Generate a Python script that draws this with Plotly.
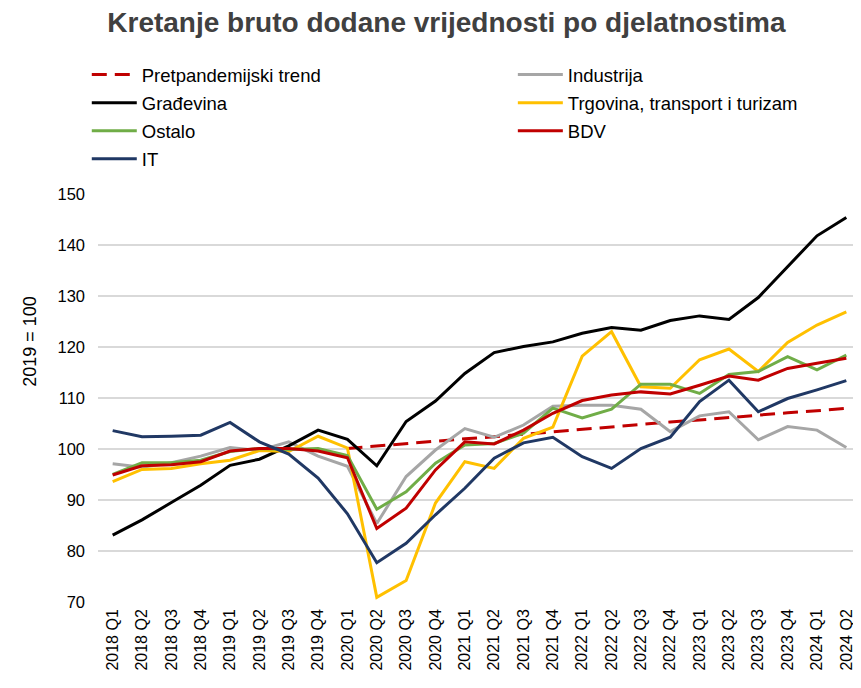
import plotly.graph_objects as go

quarters = ["2018 Q1","2018 Q2","2018 Q3","2018 Q4","2019 Q1","2019 Q2","2019 Q3","2019 Q4",
            "2020 Q1","2020 Q2","2020 Q3","2020 Q4","2021 Q1","2021 Q2","2021 Q3","2021 Q4",
            "2022 Q1","2022 Q2","2022 Q3","2022 Q4","2023 Q1","2023 Q2","2023 Q3","2023 Q4",
            "2024 Q1","2024 Q2"]

trend = [None]*8 + [100.1, 100.6, 101.0, 101.5, 102.0, 102.4, 102.9, 103.4, 103.9, 104.3,
                    104.8, 105.3, 105.7, 106.2, 106.6, 107.1, 107.5, 108.0]
industrija = [97.1, 96.4, 97.3, 98.6, 100.3, 99.7, 101.4, 98.6, 96.6, 85.4, 94.6, 99.8, 104.0,
              102.3, 104.7, 108.4, 108.6, 108.6, 107.8, 103.4, 106.5, 107.3, 101.8, 104.4, 103.7, 100.3]
gradevina = [83.1, 86.1, 89.5, 92.9, 96.8, 98.0, 100.6, 103.7, 101.9, 96.7, 105.4, 109.4, 114.8,
             118.9, 120.1, 121.0, 122.7, 123.8, 123.3, 125.2, 126.1, 125.4, 129.7, 135.7, 141.8, 145.4]
trgovina = [93.6, 96.0, 96.2, 97.1, 97.8, 99.7, 99.5, 102.5, 100.2, 70.9, 74.2, 89.4, 97.5,
            96.2, 102.1, 104.3, 118.2, 123.0, 112.2, 111.9, 117.5, 119.6, 115.2, 120.9, 124.3, 126.9]
ostalo = [95.0, 97.3, 97.3, 97.8, 99.5, 100.1, 99.9, 100.1, 98.7, 88.2, 91.6, 97.2, 100.8,
          101.1, 103.1, 108.0, 106.1, 107.8, 112.7, 112.7, 110.9, 114.6, 115.2, 118.1, 115.5, 118.4]
bdv = [94.9, 96.7, 96.9, 97.5, 99.6, 100.1, 100.1, 99.6, 98.3, 84.4, 88.4, 95.9, 101.4,
       101.0, 103.7, 107.0, 109.5, 110.6, 111.2, 110.8, 112.5, 114.3, 113.5, 115.8, 116.8, 117.8]
it = [103.6, 102.4, 102.5, 102.7, 105.2, 101.4, 99.0, 94.3, 87.3, 77.7, 81.5, 87.1, 92.3,
      98.2, 101.2, 102.3, 98.5, 96.2, 100.1, 102.3, 109.3, 113.5, 107.3, 109.9, 111.6, 113.4]

FONT = "Liberation Sans, Arial, sans-serif"

# name, values, colour, dash, legend column, rank
series = [
    ("Pretpandemijski trend", trend, "#C00000", "15px,8px", "legend", 1),
    ("Industrija", industrija, "#A6A6A6", "solid", "legend2", 1),
    ("Građevina", gradevina, "#000000", "solid", "legend", 2),
    ("Trgovina, transport i turizam", trgovina, "#FFC000", "solid", "legend2", 2),
    ("Ostalo", ostalo, "#70AD47", "solid", "legend", 3),
    ("BDV", bdv, "#C00000", "solid", "legend2", 3),
    ("IT", it, "#203864", "solid", "legend", 4),
]

fig = go.Figure()
for name, vals, color, dash, leg, rank in series:
    fig.add_trace(go.Scatter(
        x=quarters, y=vals, name=name, mode="lines",
        line=dict(color=color, width=3, dash=dash),
        legend=leg, legendrank=rank, legendgroup=name, connectgaps=False,
    ))

leg_common = dict(orientation="v", yanchor="top", xanchor="left",
                  font=dict(family=FONT, size=18.5, color="#000000"),
                  traceorder="grouped", tracegroupgap=1,
                  bgcolor="rgba(0,0,0,0)", itemwidth=45, borderwidth=0)

fig.update_layout(
    width=853, height=680,
    paper_bgcolor="white", plot_bgcolor="white",
    margin=dict(l=90, r=0, t=186, b=86),
    font=dict(family=FONT, size=16, color="#000000"),
    title=dict(text="<b>Kretanje bruto dodane vrijednosti po djelatnostima</b>",
               x=0.514, xanchor="center", y=0.979, yanchor="middle",
               font=dict(family=FONT, size=28, color="#404040")),
    showlegend=True,
    legend=dict(x=-0.0147, y=1.338, **leg_common),
    legend2=dict(x=0.5437, y=1.338, **leg_common),
    annotations=[dict(text="2019 = 100", xref="paper", yref="paper",
                      x=-0.0891, y=0.638, xanchor="center", yanchor="middle",
                      textangle=-90, showarrow=False,
                      font=dict(family=FONT, size=18, color="#000000"))],
)
fig.update_xaxes(
    type="category", range=[-0.5, 25.5], tickangle=-90, showgrid=False, zeroline=False,
    showline=False, ticks="", ticklabelstandoff=3,
    tickfont=dict(family=FONT, size=16, color="#000000"),
)
fig.update_yaxes(
    range=[70, 150], dtick=10, showgrid=True, gridcolor="#D9D9D9", gridwidth=2,
    zeroline=False, showline=False, ticks="", ticklabelstandoff=12,
    tickfont=dict(family=FONT, size=16.5, color="#000000"),
)

fig.write_html("out.html")
